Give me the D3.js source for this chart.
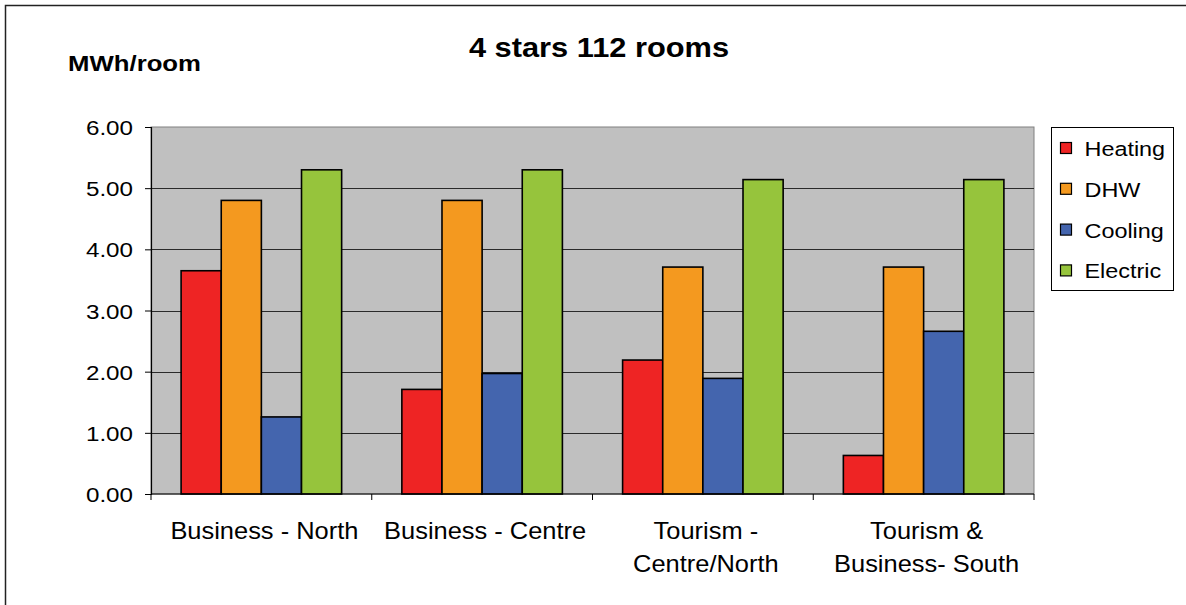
<!DOCTYPE html>
<html>
<head>
<meta charset="utf-8">
<script src="https://cdn.jsdelivr.net/npm/d3@7"></script>
<style>
  html, body { margin: 0; padding: 0; background: #fff; }
  svg { display: block; font-family: "Liberation Sans", Arial, sans-serif; }
</style>
</head>
<body>
<svg id="chart" width="1186" height="605"></svg>
<script>
// Energy use per room, 4-star hotel with 112 rooms
const categories = ["Business - North", "Business - Centre", "Tourism - Centre/North", "Tourism & Business- South"];
const categoryLines = [["Business - North"], ["Business - Centre"], ["Tourism -", "Centre/North"], ["Tourism &", "Business- South"]];
const seriesNames = ["Heating", "DHW", "Cooling", "Electric"];
const seriesColors = ["#EE2424", "#F4991F", "#4465AE", "#96C43C"];
const heating = [3.65, 1.71, 2.19, 0.63];
const dhw = [4.80, 4.80, 3.71, 3.71];
const cooling = [1.26, 1.97, 1.89, 2.66];
const electric = [5.30, 5.30, 5.14, 5.14];
const yTicks = [0, 1, 2, 3, 4, 5, 6];

const seriesValues = [heating, dhw, cooling, electric];

const svg = d3.select("#chart");

// outer chart frame
svg.append("path")
  .attr("d", "M5.5,610 L5.5,5.5 L1192,5.5")
  .attr("fill", "none").attr("stroke", "#222").attr("stroke-width", 1.5);

const plot = { left: 151, right: 1034, top: 127, bottom: 494 };

const x0 = d3.scaleBand().domain(categories).range([plot.left, plot.right]).padding(0);
const W = x0.bandwidth();
const gap = W * 0.75 / 5.5; // gap width 150% of a bar, split on both sides
const x1 = d3.scaleBand().domain(seriesNames).range([gap, W - gap]).padding(0);
const y = d3.scaleLinear().domain([0, 6]).range([plot.bottom, plot.top]);

// plot background
svg.append("rect")
  .attr("x", plot.left).attr("y", plot.top)
  .attr("width", plot.right - plot.left).attr("height", plot.bottom - plot.top)
  .attr("fill", "#C0C0C0").attr("stroke", "#808080").attr("stroke-width", 1);

// horizontal gridlines
svg.append("g")
  .selectAll("line")
  .data(yTicks.filter(t => t > 0 && t < 6))
  .join("line")
  .attr("x1", plot.left).attr("x2", plot.right)
  .attr("y1", d => Math.round(y(d)) + 0.5).attr("y2", d => Math.round(y(d)) + 0.5)
  .attr("stroke", "#2a2a2a").attr("stroke-width", 1);

// bars
const groups = svg.append("g")
  .selectAll("g")
  .data(categories)
  .join("g")
  .attr("transform", d => `translate(${x0(d)},0)`);

groups.selectAll("rect")
  .data((c, i) => seriesNames.map((s, j) => ({ s, j, v: seriesValues[j][i] })))
  .join("rect")
  .attr("x", d => x1(d.s))
  .attr("width", x1.bandwidth())
  .attr("y", d => y(d.v))
  .attr("height", d => y(0) - y(d.v))
  .attr("fill", d => seriesColors[d.j])
  .attr("stroke", "#000").attr("stroke-width", 1.6);

// y axis
const yAxis = svg.append("g")
  .attr("transform", `translate(${plot.left},0)`)
  .call(d3.axisLeft(y).tickValues(yTicks).tickFormat(d3.format(".2f")).tickSize(6).tickPadding(6));
yAxis.select(".domain").attr("stroke", "#000").attr("stroke-width", 1.2);
yAxis.selectAll(".tick line").attr("stroke", "#000");
yAxis.selectAll(".tick text")
  .attr("font-size", 20.5).attr("fill", "#000")
  .attr("x", 0).attr("dy", null).attr("y", 7.5)
  .attr("text-anchor", "end")
  .attr("transform", "translate(-18,0) scale(1.18,1)");

// x axis with category separators
const xAxis = svg.append("g").attr("transform", `translate(0,${plot.bottom})`);
xAxis.append("line")
  .attr("x1", plot.left).attr("x2", plot.right).attr("y1", 0).attr("y2", 0)
  .attr("stroke", "#000").attr("stroke-width", 1.2);
const boundaries = categories.map(c => x0(c)).concat([plot.right]);
xAxis.selectAll("line.sep")
  .data(boundaries)
  .join("line")
  .attr("class", "sep")
  .attr("x1", d => d).attr("x2", d => d).attr("y1", 0).attr("y2", 6)
  .attr("stroke", "#000").attr("stroke-width", 1);

const labels = xAxis.selectAll("text.cat")
  .data(categories)
  .join("text")
  .attr("class", "cat")
  .attr("text-anchor", "middle")
  .attr("font-size", 24)
  .attr("fill", "#000")
  .attr("transform", d => `translate(${x0(d) + W / 2 + 3},45) scale(1.06,1)`);
labels.selectAll("tspan")
  .data((d, i) => categoryLines[i])
  .join("tspan")
  .attr("x", 0)
  .attr("y", (d, k) => k * 33)
  .text(d => d);

// title and unit label
svg.append("text")
  .attr("text-anchor", "middle")
  .attr("font-size", 28).attr("font-weight", "bold").attr("fill", "#000")
  .attr("transform", "translate(599,57) scale(1.1,1)")
  .text("4 stars 112 rooms");

svg.append("text")
  .attr("text-anchor", "start")
  .attr("font-size", 23).attr("font-weight", "bold").attr("fill", "#000")
  .attr("transform", "translate(68,71) scale(1.12,1)")
  .text("MWh/room");

// legend
const legend = svg.append("g").attr("transform", "translate(1051.5,127.5)");
legend.append("rect")
  .attr("x", 0).attr("y", 0).attr("width", 122).attr("height", 163)
  .attr("fill", "#fff").attr("stroke", "#000").attr("stroke-width", 1);
const items = legend.selectAll("g.item")
  .data(seriesNames)
  .join("g")
  .attr("class", "item")
  .attr("transform", (d, i) => `translate(0,${20.5 + i * 40.8})`);
items.append("rect")
  .attr("x", 9).attr("y", -5.5).attr("width", 11).attr("height", 11)
  .attr("fill", (d, i) => seriesColors[i])
  .attr("stroke", "#000").attr("stroke-width", 1.2);
items.append("text")
  .attr("transform", "translate(33,8) scale(1.2,1)")
  .attr("font-size", 19.5).attr("fill", "#000")
  .text(d => d);
</script>
</body>
</html>
